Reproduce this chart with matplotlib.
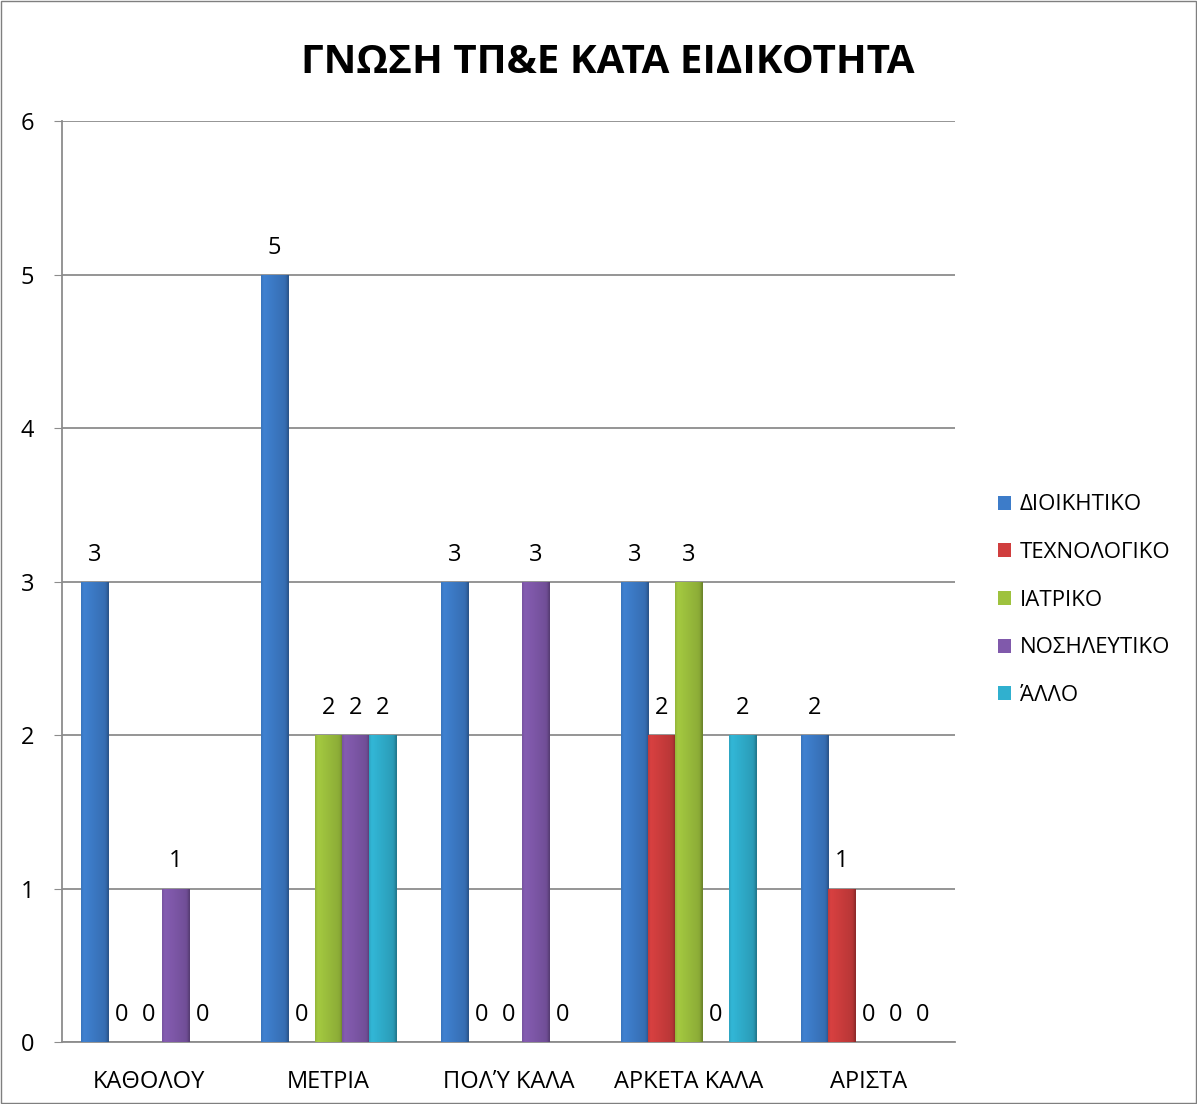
import numpy as np
import matplotlib.pyplot as plt
from matplotlib.colors import to_rgb
from matplotlib.patches import Rectangle

plt.rcParams['font.family'] = ['Open Sans', 'DejaVu Sans']

categories = ['ΚΑΘΟΛΟΥ', 'ΜΕΤΡΙΑ', 'ΠΟΛΎ ΚΑΛΑ', 'ΑΡΚΕΤΑ ΚΑΛΑ', 'ΑΡΙΣΤΑ']
series_names = ['ΔΙΟΙΚΗΤΙΚΟ', 'ΤΕΧΝΟΛΟΓΙΚΟ', 'ΙΑΤΡΙΚΟ', 'ΝΟΣΗΛΕΥΤΙΚΟ', 'ΆΛΛΟ']
dioikitiko = [3, 5, 3, 3, 2]
technologiko = [0, 0, 0, 2, 1]
iatriko = [0, 2, 0, 3, 0]
nosileftiko = [1, 2, 3, 0, 0]
allo = [0, 2, 0, 2, 0]
colors = ['#3d7cc9', '#d03e3e', '#9ec23e', '#8059ab', '#30b0cf']

series = [dioikitiko, technologiko, iatriko, nosileftiko, allo]


def shaded(color):
    # horizontal light-to-dark ramp across a bar
    c = np.array(to_rgb(color))
    t = np.linspace(0, 1, 64)
    f = 1.06 - 0.2 * t - 0.12 * np.exp(-(t / 0.06) ** 2) \
        - 0.18 * np.exp(-((t - 1.0) / 0.08) ** 2)
    img = np.clip(c[None, :] * f[:, None], 0, 1)
    return img[None, :, :]


fig = plt.figure(figsize=(11.97, 11.04), dpi=100)
ax = fig.add_axes([0.052, 0.056, 0.746, 0.834])

x = np.arange(len(categories))
width = 0.15
for i, (name, vals) in enumerate(zip(series_names, series)):
    pos = x + (i - 2) * width
    bars = ax.bar(pos, vals, width, color=colors[i], linewidth=0, label=name, zorder=3)
    grad = shaded(colors[i])
    for b, v in zip(bars, vals):
        if v > 0:
            x0, w = b.get_x(), b.get_width()
            im = ax.imshow(grad, extent=(x0, x0 + w, 0, v), aspect='auto',
                           interpolation='bilinear', zorder=4)
            im.set_clip_path(b)
        ax.annotate(str(v), (b.get_x() + b.get_width() / 2, v), xytext=(0, 11),
                    textcoords='offset points', ha='center', va='bottom', fontsize=17)

ax.set_ylim(0, 6)
ax.set_xlim(-0.48, 4.48)
ax.set_yticks(range(7))
ax.set_xticks(x)
ax.set_xticklabels(categories)
ax.tick_params(axis='both', labelsize=17, color='#8c8c8c', length=6)
ax.tick_params(axis='x', length=0, pad=20)
ax.tick_params(axis='y', pad=14)
ax.grid(axis='y', color='#8c8c8c', linewidth=1.3, zorder=0)
for side in ['top', 'right']:
    ax.spines[side].set_visible(False)
for side in ['left', 'bottom']:
    ax.spines[side].set_color('#8c8c8c')
    ax.spines[side].set_linewidth(1.3)

fig.text(0.508, 0.943, 'ΓΝΩΣΗ ΤΠ&Ε ΚΑΤΑ ΕΙΔΙΚΟΤΗΤΑ', ha='center', va='center',
         fontsize=29, fontweight='bold')

ax.legend(loc='center left', bbox_to_anchor=(1.025, 0.48), frameon=False, fontsize=16,
          handlelength=0.6, handleheight=0.6, handletextpad=0.4, labelspacing=1.2)

fig.add_artist(Rectangle((0.001, 0.001), 0.998, 0.998, transform=fig.transFigure,
                         fill=False, edgecolor='#7f7f7f', linewidth=1))

fig.savefig('out.png', dpi=100)
